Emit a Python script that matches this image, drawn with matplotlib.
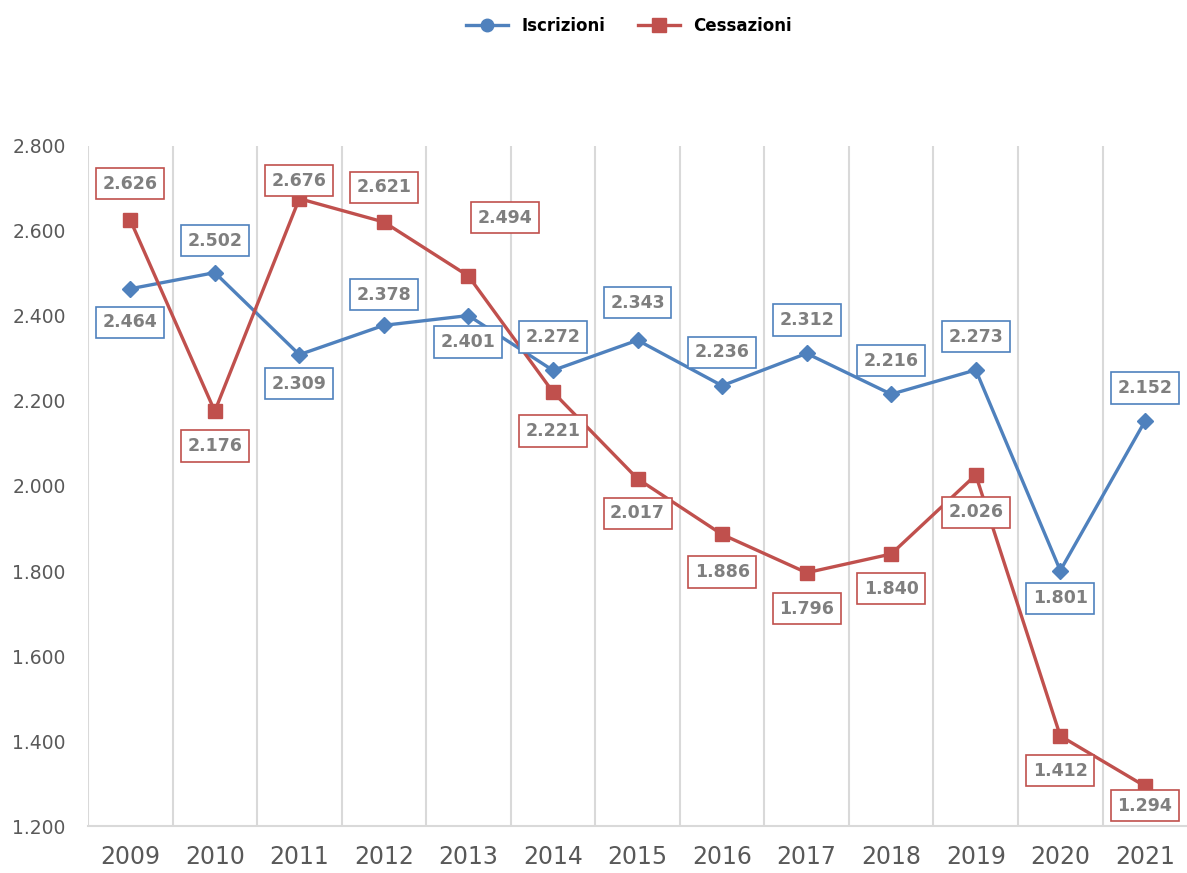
import matplotlib.pyplot as plt
from matplotlib.lines import Line2D

years = ["2009", "2010", "2011", "2012", "2013", "2014", "2015",
         "2016", "2017", "2018", "2019", "2020", "2021"]
iscrizioni = [2464, 2502, 2309, 2378, 2401, 2272, 2343, 2236, 2312, 2216, 2273, 1801, 2152]
cessazioni = [2626, 2176, 2676, 2621, 2494, 2221, 2017, 1886, 1796, 1840, 2026, 1412, 1294]

# label offsets in points (dx, dy) relative to each marker
isc_off = [(0, -24), (0, 23), (0, -21), (0, 22), (0, -19), (0, 24), (0, 27),
           (0, 24), (0, 24), (0, 24), (0, 24), (0, -20), (0, 24)]
ces_off = [(0, 26), (0, -25), (0, 13), (0, 25), (26, 42), (0, -28), (0, -25),
           (0, -27), (0, -26), (0, -25), (0, -27), (0, -25), (0, -14)]

BLUE = "#4F81BD"
RED = "#C0504D"
GREY = "#7F7F7F"


def fmt(v):
    return f"{v:,}".replace(",", ".")


fig = plt.figure(figsize=(11.87, 8.73), dpi=100)
ax = fig.add_axes([0.0741, 0.0538, 0.926, 0.779])

x = list(range(len(years)))
ax.plot(x, iscrizioni, color=BLUE, lw=2.4, marker="D", ms=8.5, zorder=3)
ax.plot(x, cessazioni, color=RED, lw=2.4, marker="s", ms=10.5, zorder=3)

for xi, v, (dx, dy) in zip(x, iscrizioni, isc_off):
    ax.annotate(fmt(v), (xi, v), xytext=(dx, dy), textcoords="offset points",
                ha="center", va="center", fontsize=12.5, fontweight="bold", color=GREY,
                bbox=dict(boxstyle="square,pad=0.38", fc="white", ec=BLUE, lw=1.2),
                zorder=4, annotation_clip=False)
for xi, v, (dx, dy) in zip(x, cessazioni, ces_off):
    ax.annotate(fmt(v), (xi, v), xytext=(dx, dy), textcoords="offset points",
                ha="center", va="center", fontsize=12.5, fontweight="bold", color=GREY,
                bbox=dict(boxstyle="square,pad=0.38", fc="white", ec=RED, lw=1.2),
                zorder=4, annotation_clip=False)

ax.set_xlim(-0.5, len(years) - 0.5)
ax.set_ylim(1200, 2800)
ax.set_yticks(range(1200, 2801, 200))
ax.set_yticklabels([fmt(t) for t in range(1200, 2801, 200)])
ax.set_xticks(x)
ax.set_xticklabels(years)

for b in range(len(years)):
    ax.axvline(b - 0.5, color="#D9D9D9", lw=1.5, zorder=1)

for s in ["top", "right", "left"]:
    ax.spines[s].set_visible(False)
ax.spines["bottom"].set_color("#D9D9D9")
ax.spines["bottom"].set_linewidth(1.5)
ax.tick_params(axis="both", length=0, colors="#595959")
ax.tick_params(axis="y", labelsize=13.5, pad=16)
ax.tick_params(axis="x", labelsize=17, pad=14)

handles = [
    Line2D([], [], color=BLUE, lw=2.4, marker="o", ms=9, label="Iscrizioni"),
    Line2D([], [], color=RED, lw=2.4, marker="s", ms=10, label="Cessazioni"),
]
leg = fig.legend(handles=handles, loc="center", bbox_to_anchor=(0.53, 0.97), ncol=2,
                 frameon=False, prop={"weight": "bold", "size": 12}, handlelength=2.5,
                 columnspacing=2)

fig.savefig("out.png", dpi=100)
